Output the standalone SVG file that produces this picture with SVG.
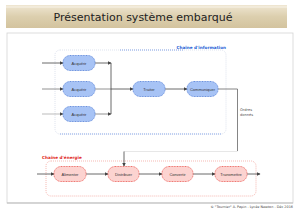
<svg xmlns="http://www.w3.org/2000/svg" width="299" height="212" viewBox="0 0 299 212">
<defs>
<linearGradient id="tb" x1="0" y1="0" x2="0" y2="1">
<stop offset="0" stop-color="#efe6d2"/>
<stop offset="0.5" stop-color="#dccfae"/>
<stop offset="1" stop-color="#d3c39e"/>
</linearGradient>
<marker id="ar" markerWidth="4" markerHeight="4" refX="3.5" refY="2" orient="auto" markerUnits="userSpaceOnUse">
<path d="M0,0 L4,2 L0,4 Z" fill="#444"/>
</marker>
</defs>
<style>
.t{font-family:"DejaVu Sans",sans-serif}
.nb{fill:#a7c3f5;stroke:#3d6fd1;stroke-width:0.7;stroke-dasharray:1 0.6}
.nr{fill:#fcd3d0;stroke:#e8403a;stroke-width:0.7;stroke-dasharray:1 0.6}
.nt{font-family:"Liberation Sans",sans-serif;font-size:4px;fill:#333;text-anchor:middle}
.ln{fill:none;stroke:#444;stroke-width:0.8}
</style>
<rect width="299" height="212" fill="#ffffff"/>
<rect x="6" y="5" width="281" height="23" fill="url(#tb)"/>
<line x1="6" y1="7" x2="287" y2="7" stroke="#fbf8f0" stroke-width="0.8"/>
<text x="143" y="21" class="t" font-size="11" fill="#222" text-anchor="middle">Présentation système embarqué</text>
<rect x="7" y="33" width="286" height="170" fill="#fff" stroke="#d4d4d4" stroke-width="0.8"/>
<line x1="7" y1="203" x2="293" y2="203" stroke="#bbb" stroke-width="1"/>
<g id="chaine-information">
<rect x="55" y="50" width="171" height="84" rx="5" fill="none" stroke="#c8d0e2" stroke-width="0.6" stroke-dasharray="1 1"/>
<line x1="60" y1="134" x2="222" y2="134" stroke="#4a7be0" stroke-width="0.6" stroke-dasharray="1 1"/>
<line x1="120" y1="50" x2="184" y2="50" stroke="#4a7be0" stroke-width="0.6" stroke-dasharray="1 1"/>
<text x="226" y="49" class="t" font-size="4.2" font-weight="bold" fill="#1f5fd6" text-anchor="end">Chaîne d'information</text>
</g>
<g id="chaine-energie">
<rect x="46" y="161" width="210" height="35" rx="5" fill="none" stroke="#f08a80" stroke-width="0.6" stroke-dasharray="1 1"/>
<text x="42" y="159" class="t" font-size="4.2" font-weight="bold" fill="#e0261c">Chaîne d'énergie</text>
</g>
<g id="connectors">
<line x1="42" y1="63" x2="63" y2="63" class="ln" stroke="#333" marker-end="url(#ar)"/>
<line x1="42" y1="89" x2="63" y2="89" class="ln" style="stroke:#777" marker-end="url(#ar)"/>
<line x1="42" y1="114" x2="63" y2="114" class="ln" style="stroke:#aaa" marker-end="url(#ar)"/>
<line x1="95" y1="63" x2="111" y2="63" class="ln" marker-end="url(#ar)"/>
<line x1="95" y1="89" x2="111" y2="89" class="ln" style="stroke:#777"/>
<line x1="95" y1="114" x2="111" y2="114" class="ln" style="stroke:#777" marker-end="url(#ar)"/>
<line x1="111" y1="63" x2="111" y2="114" class="ln"/>
<line x1="111" y1="89" x2="133" y2="89" class="ln" marker-end="url(#ar)"/>
<line x1="165" y1="89" x2="187" y2="89" class="ln" marker-end="url(#ar)"/>
<polyline points="218,89 237.5,89 237.5,151" class="ln" style="stroke:#666"/>
<line x1="124" y1="151.5" x2="237.5" y2="151.5" class="ln" style="stroke:#ddd;stroke-width:0.7"/>
<line x1="124" y1="151.5" x2="124" y2="166" class="ln" marker-end="url(#ar)"/>
<line x1="37" y1="174" x2="54" y2="174" class="ln" marker-end="url(#ar)"/>
<line x1="86" y1="174" x2="108" y2="174" class="ln" marker-end="url(#ar)"/>
<line x1="139" y1="174" x2="162" y2="174" class="ln" marker-end="url(#ar)"/>
<line x1="193" y1="174" x2="215" y2="174" class="ln" marker-end="url(#ar)"/>
<line x1="247" y1="174" x2="260" y2="174" class="ln" marker-end="url(#ar)"/>
<text x="240" y="111" class="t" font-size="3.6" fill="#555">Ordres</text>
<text x="240" y="116" class="t" font-size="3.6" fill="#555">donnés</text>
</g>
<g id="acquerir1"><rect x="63" y="55.5" width="32" height="15" rx="7" class="nb"/><text x="79" y="64.5" class="nt">Acquérir</text></g>
<g id="acquerir2"><rect x="63" y="81.5" width="32" height="15" rx="7" class="nb"/><text x="79" y="90.5" class="nt">Acquérir</text></g>
<g id="acquerir3"><rect x="63" y="106.5" width="32" height="15" rx="7" class="nb"/><text x="79" y="115.5" class="nt">Acquérir</text></g>
<g id="traiter"><rect x="133" y="81.5" width="32" height="15" rx="7" class="nb"/><text x="149" y="90.5" class="nt">Traiter</text></g>
<g id="communiquer"><rect x="187" y="81.5" width="31" height="15" rx="7" class="nb"/><text x="202.5" y="90.5" class="nt">Communiquer</text></g>
<g id="alimenter"><rect x="54" y="166.5" width="32" height="15" rx="7" class="nr"/><text x="70" y="175.5" class="nt">Alimenter</text></g>
<g id="distribuer"><rect x="108" y="166.5" width="31" height="15" rx="7" class="nr"/><text x="123.5" y="175.5" class="nt">Distribuer</text></g>
<g id="convertir"><rect x="162" y="166.5" width="31" height="15" rx="7" class="nr"/><text x="177.5" y="175.5" class="nt">Convertir</text></g>
<g id="transmettre"><rect x="215" y="166.5" width="32" height="15" rx="7" class="nr"/><text x="231" y="175.5" class="nt">Transmettre</text></g>
<text x="293" y="208" class="t" font-size="3.4" fill="#444" text-anchor="end">© "Tournier" A. Papin - Lycée Newton - Déc 2016</text>
</svg>
